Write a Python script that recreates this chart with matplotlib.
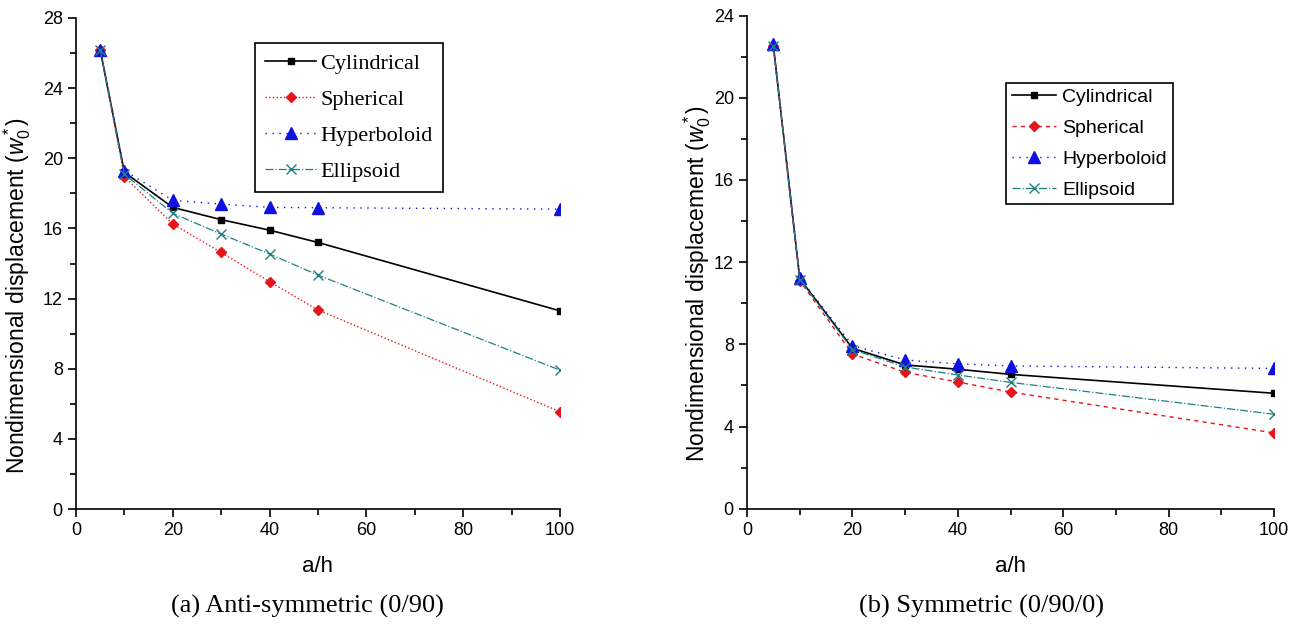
import matplotlib.pyplot as plt
from matplotlib.ticker import MultipleLocator

# a/h ratios
a_h = [5, 10, 20, 30, 40, 50, 100]

# (a) Anti-symmetric (0/90)
cyl_a = [26.2, 19.2, 17.2, 16.5, 15.9, 15.2, 11.3]
sph_a = [26.2, 18.95, 16.25, 14.63, 12.96, 11.35, 5.55]
hyp_a = [26.2, 19.3, 17.6, 17.39, 17.2, 17.18, 17.1]
ell_a = [26.2, 19.1, 16.86, 15.68, 14.54, 13.34, 7.92]

# (b) Symmetric (0/90/0)
cyl_b = [22.54, 11.2, 7.81, 7.0, 6.79, 6.54, 5.62]
sph_b = [22.5, 11.1, 7.53, 6.64, 6.17, 5.68, 3.69]
hyp_b = [22.6, 11.25, 7.94, 7.24, 7.05, 6.95, 6.83]
ell_b = [22.5, 11.15, 7.75, 6.9, 6.51, 6.15, 4.6]

labels = ['Cylindrical', 'Spherical', 'Hyperboloid', 'Ellipsoid']

plt.rcParams['font.family'] = ['Liberation Sans', 'DejaVu Sans']
plt.rcParams['mathtext.fontset'] = 'custom'
plt.rcParams['mathtext.it'] = 'Liberation Sans:italic'
plt.rcParams['mathtext.rm'] = 'Liberation Sans'

fig = plt.figure(figsize=(13.01, 6.25), dpi=100)
ax1 = fig.add_axes([0.0584, 0.1856, 0.372, 0.7856])
ax2 = fig.add_axes([0.5742, 0.186, 0.4051, 0.789])


def draw(ax, data, sph_ls, ymax, legend_font, legend_loc, spacing, textpad, bpad, ylab_xy):
    cyl, sph, hyp, ell = data
    ax.plot(a_h, cyl, color='black', ls='-', lw=1.2, marker='s', ms=5, label=labels[0])
    ax.plot(a_h, sph, color='#e8141c', ls=sph_ls, lw=1.0, marker='D', ms=5, label=labels[1])
    ax.plot(a_h, hyp, color='#1010e0', ls=(0, (1, 4)), lw=1.0, marker='^', ms=8, label=labels[2])
    ax.plot(a_h, ell, color='#208080', ls='-.', lw=0.9, marker='x', ms=7, label=labels[3])
    ax.set_xlim(0, 100)
    ax.set_ylim(0, ymax)
    ax.xaxis.set_major_locator(MultipleLocator(20))
    ax.xaxis.set_minor_locator(MultipleLocator(10))
    ax.yaxis.set_major_locator(MultipleLocator(4))
    ax.yaxis.set_minor_locator(MultipleLocator(2))
    ax.tick_params(which='major', direction='out', length=6, width=1.2, labelsize=13)
    ax.tick_params(which='minor', direction='out', length=4, width=1.2)
    ax.spines['top'].set_visible(False)
    ax.spines['right'].set_visible(False)
    for s in ('left', 'bottom'):
        ax.spines[s].set_linewidth(1.2)
    ax.set_xlabel('a/h', fontsize=16, labelpad=12)
    ax.set_ylabel(r'Nondimensional displacement ($w^*_0$)', fontsize=16.5)
    ax.yaxis.set_label_coords(*ylab_xy)
    leg = ax.legend(loc='upper left', bbox_to_anchor=legend_loc, fancybox=False,
                    edgecolor='black', framealpha=1, handlelength=2.3,
                    borderpad=bpad, labelspacing=spacing, handletextpad=textpad,
                    borderaxespad=0, prop=legend_font)
    leg.get_frame().set_linewidth(1.2)


draw(ax1, (cyl_a, sph_a, hyp_a, ell_a), ':', 28,
     {'family': 'Liberation Serif', 'size': 16}, (0.37, 0.949), 0.7, 0.2, 0.45,
     (-0.088, 0.434))
draw(ax2, (cyl_b, sph_b, hyp_b, ell_b), (0, (3, 3)), 24,
     {'family': 'Liberation Sans', 'size': 14}, (0.491, 0.864), 0.68, 0.3, 0.3,
     (-0.064, 0.456))

fig.text(0.2364, 0.03, '(a) Anti-symmetric (0/90)', ha='center', va='center',
         family='Liberation Serif', fontsize=19)
fig.text(0.7544, 0.03, '(b) Symmetric (0/90/0)', ha='center', va='center',
         family='Liberation Serif', fontsize=19)

fig.savefig('out.png', dpi=100)
